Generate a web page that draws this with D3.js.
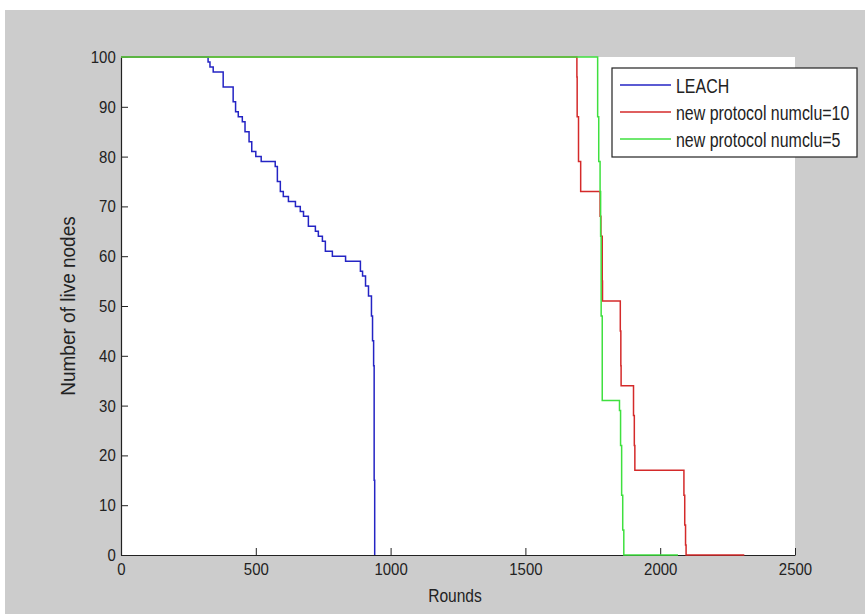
<!DOCTYPE html>
<html>
<head>
<meta charset="utf-8">
<script src="https://cdn.jsdelivr.net/npm/d3@7"></script>
<style>
  body { margin: 0; background: #fff; }
  text { font-family: "Liberation Sans", Arial, sans-serif; fill: #222; }
</style>
</head>
<body>
<script>
  var width = 865, height = 614;

  // rounds / live nodes (step curves)
  var leachRounds = [0, 323, 330, 342, 379, 416, 425, 435, 450, 460, 475, 485, 500, 520, 572, 580, 591, 602, 621, 647, 665, 677, 695, 721, 732, 747, 758, 784, 833, 888, 896, 907, 918, 929, 933, 937, 939, 941];
  var leachAlive  = [100, 99, 98, 97, 94, 91, 89, 88, 87, 85, 83, 81, 80, 79, 78, 75, 73, 72, 71, 70, 69, 68, 66, 65, 64, 63, 61, 60, 59, 57, 56, 54, 52, 48, 43, 38, 15, 0];

  var numclu10Rounds = [0, 1691, 1692, 1697, 1705, 1777, 1780, 1785, 1786, 1852, 1854, 1855, 1901, 1904, 1906, 2088, 2091, 2094, 2096, 2312];
  var numclu10Alive  = [100, 96, 88, 79, 73, 68, 64, 55, 51, 45, 38, 34, 28, 22, 17, 12, 6, 2, 0, 0];

  var numclu5Rounds = [0, 1766, 1768, 1772, 1777, 1779, 1781, 1785, 1849, 1853, 1857, 1861, 1865, 2066];
  var numclu5Alive  = [100, 100, 88, 79, 73, 64, 48, 31, 29, 22, 12, 5, 0, 0];

  var seriesNames = ["LEACH", "new protocol numclu=10", "new protocol numclu=5"];
  var seriesColors = ["#2424c4", "#d42a2a", "#3fe03f"];

  var xTicks = [0, 500, 1000, 1500, 2000, 2500];
  var yTicks = [0, 10, 20, 30, 40, 50, 60, 70, 80, 90, 100];

  var svg = d3.select("body").append("svg")
    .attr("width", width)
    .attr("height", height);

  // figure background
  svg.append("rect")
    .attr("x", 5).attr("y", 10)
    .attr("width", width - 5).attr("height", height - 10)
    .attr("fill", "#cccccc");

  var axLeft = 121, axRight = 795, axTop = 57, axBottom = 555;

  var x = d3.scaleLinear().domain([0, 2500]).range([axLeft, axRight]);
  var y = d3.scaleLinear().domain([0, 100]).range([axBottom, axTop]);

  svg.append("rect")
    .attr("x", axLeft).attr("y", axTop)
    .attr("width", axRight - axLeft).attr("height", axBottom - axTop)
    .attr("fill", "#fff");

  var xAxis = svg.append("g")
    .attr("transform", "translate(0," + axBottom + ")")
    .call(d3.axisBottom(x).tickValues(xTicks).tickFormat(d3.format("d"))
      .tickSizeInner(-7).tickSizeOuter(0).tickPadding(8));

  var yAxis = svg.append("g")
    .attr("transform", "translate(" + axLeft + ",0)")
    .call(d3.axisLeft(y).tickValues(yTicks)
      .tickSizeInner(-7).tickSizeOuter(0).tickPadding(6));

  [xAxis, yAxis].forEach(function(a) {
    a.select(".domain").attr("stroke", "#222").attr("stroke-width", 1.2);
    a.selectAll(".tick line").attr("stroke", "#222");
    a.selectAll(".tick text")
      .attr("font-size", 17)
      .attr("fill", "#222")
      .attr("transform", "scale(0.88,1)")
      .style("font-family", "'Liberation Sans', Arial, sans-serif");
  });

  var line = d3.line()
    .x(function(d) { return x(d[0]); })
    .y(function(d) { return y(d[1]); })
    .curve(d3.curveStepAfter);

  var allSeries = [
    d3.zip(leachRounds, leachAlive),
    d3.zip(numclu10Rounds, numclu10Alive),
    d3.zip(numclu5Rounds, numclu5Alive)
  ];

  svg.selectAll("path.series")
    .data(allSeries)
    .enter().append("path")
    .attr("class", "series")
    .attr("d", line)
    .attr("fill", "none")
    .attr("stroke", function(d, i) { return seriesColors[i]; })
    .attr("stroke-width", 1.5);

  // axis labels
  svg.append("text")
    .attr("x", ((axLeft + axRight) / 2 - 3) / 0.82)
    .attr("y", 602)
    .attr("text-anchor", "middle")
    .attr("font-size", 19)
    .attr("transform", "scale(0.82,1)")
    .text("Rounds");

  svg.append("text")
    .attr("transform", "translate(75," + (axTop + axBottom) / 2 + ") rotate(-90) scale(0.95,1)")
    .attr("text-anchor", "middle")
    .attr("font-size", 20)
    .text("Number of live nodes");

  // legend
  var legend = svg.append("g").attr("transform", "translate(612,68)");
  legend.append("rect")
    .attr("width", 245).attr("height", 89)
    .attr("fill", "#fff")
    .attr("stroke", "#222")
    .attr("stroke-width", 1.2);

  var rows = legend.selectAll("g.row")
    .data(seriesNames)
    .enter().append("g")
    .attr("class", "row")
    .attr("transform", function(d, i) { return "translate(0," + (17 + i * 27) + ")"; });

  rows.append("line")
    .attr("x1", 8).attr("x2", 59)
    .attr("stroke", function(d, i) { return seriesColors[i]; })
    .attr("stroke-width", 1.5);

  rows.append("text")
    .attr("x", 64 / 0.76)
    .attr("y", 7.5)
    .attr("font-size", 21)
    .attr("transform", "scale(0.76,1)")
    .text(function(d) { return d; });
</script>
</body>
</html>
